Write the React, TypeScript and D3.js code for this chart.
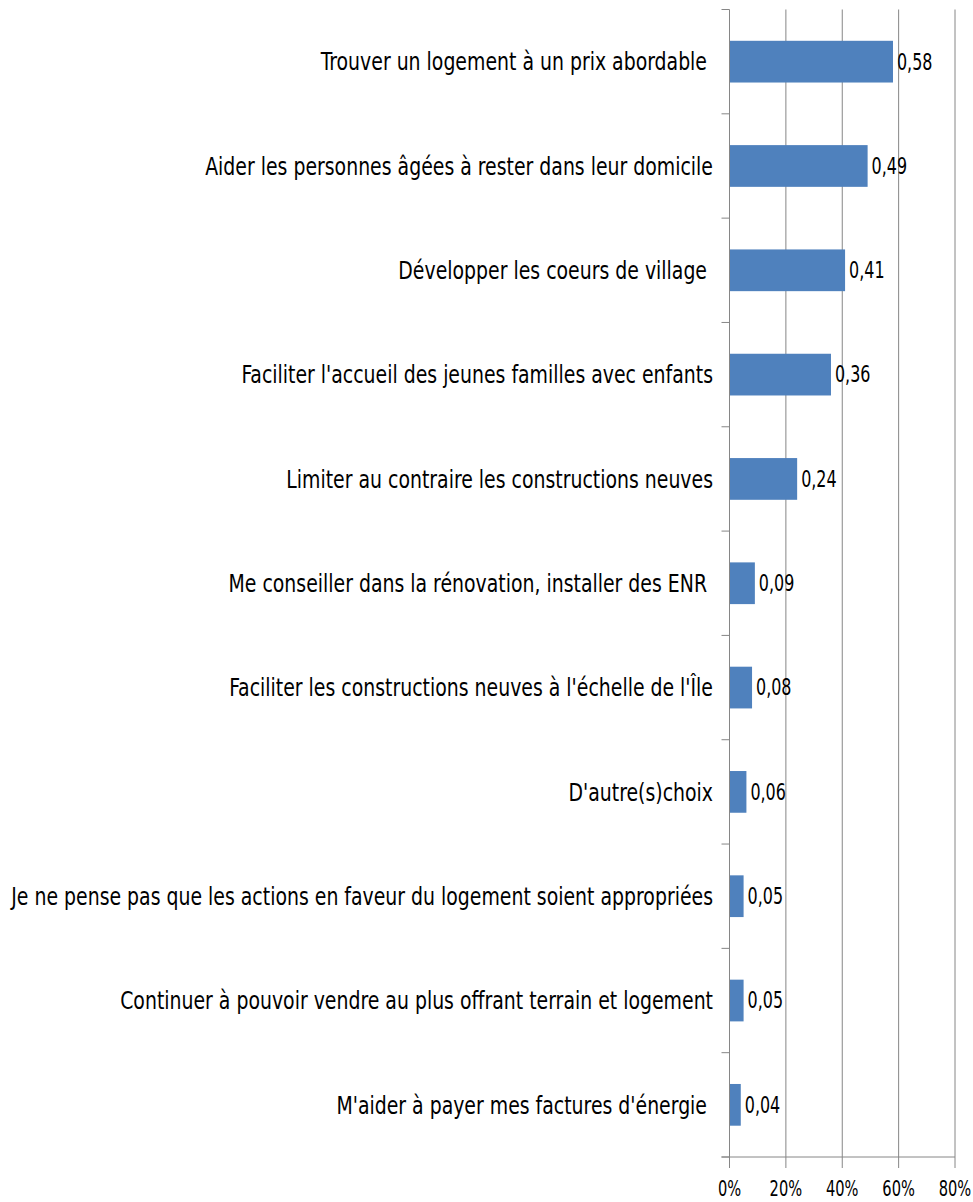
import React from "react";
import * as d3 from "d3";

const categories = [
  "Trouver un logement à un prix abordable ",
  "Aider les personnes âgées à rester dans leur domicile",
  "Développer les coeurs de village ",
  "Faciliter l'accueil des jeunes familles avec enfants",
  "Limiter au contraire les constructions neuves",
  "Me conseiller dans la rénovation, installer des ENR ",
  "Faciliter les constructions neuves à l'échelle de l'Île",
  "D'autre(s)choix",
  "Je ne pense pas que les actions en faveur du logement soient appropriées",
  "Continuer à pouvoir vendre au plus offrant terrain et logement",
  "M'aider à payer mes factures d'énergie ",
];
const values = [0.58, 0.49, 0.41, 0.36, 0.24, 0.09, 0.08, 0.06, 0.05, 0.05, 0.04];
const valueLabels = ["0,58", "0,49", "0,41", "0,36", "0,24", "0,09", "0,08", "0,06", "0,05", "0,05", "0,04"];
const xTicks = [0, 0.2, 0.4, 0.6, 0.8];
const xTickLabels = ["0%", "20%", "40%", "60%", "80%"];

const FONT = "'Liberation Sans Narrow', 'DejaVu Sans Condensed', 'Open Sans', sans-serif";

export default function App() {
  const W = 973, H = 1202;
  const x0 = 729.5, x1 = 955, yTop = 9.5, yBot = 1157;
  const x = d3.scaleLinear().domain([0, 0.8]).range([x0, x1]);
  const y = d3.scaleBand<string>().domain(categories).range([yTop, yBot]).paddingInner(0.6).paddingOuter(0.3);
  const bandStep = (yBot - yTop) / categories.length;
  const grid = "#868686";
  return (
    <svg width={W} height={H} style={{ position: "absolute", left: 0, top: 0, background: "#fff" }}>
      {xTicks.slice(1).map((t, i) => (
        <line key={"g" + i} x1={x(t)} x2={x(t)} y1={yTop} y2={yBot} stroke={grid} strokeWidth={1} />
      ))}
      {categories.map((c, i) => (
        <rect key={"b" + i} x={x(0)} y={y(c)!} width={x(values[i]) - x(0)} height={y.bandwidth()} fill="#4F81BD" />
      ))}
      <line x1={x0} x2={x0} y1={yTop} y2={yBot} stroke={grid} strokeWidth={1} />
      {d3.range(categories.length + 1).map((i) => (
        <line key={"t" + i} x1={x0 - 8} x2={x0} y1={yTop + i * bandStep} y2={yTop + i * bandStep} stroke={grid} strokeWidth={1} />
      ))}
      <line x1={x0 - 8} x2={x1} y1={yBot} y2={yBot} stroke={grid} strokeWidth={1} />
      {xTicks.map((t, i) => (
        <line key={"xt" + i} x1={x(t)} x2={x(t)} y1={yBot} y2={yBot + 11} stroke={grid} strokeWidth={1} />
      ))}
      {xTicks.map((t, i) => (
        <text key={"xl" + i} transform={`translate(${x(t)},${1189}) scale(0.74,1)`} textAnchor="middle" dominantBaseline="central"
          fontFamily={FONT} fontSize={22} fill="#000">
          {xTickLabels[i]}
        </text>
      ))}
      {categories.map((c, i) => (
        <text key={"c" + i} transform={`translate(713,${y(c)! + y.bandwidth() / 2}) scale(0.84,1)`} textAnchor="end" dominantBaseline="central"
          fontFamily={FONT} fontSize={25} fill="#000" style={{ whiteSpace: "pre" }}>
          {c}
        </text>
      ))}
      {categories.map((c, i) => (
        <text key={"v" + i} transform={`translate(${x(values[i]) + 4},${y(c)! + y.bandwidth() / 2}) scale(0.77,1)`} dominantBaseline="central"
          fontFamily={FONT} fontSize={23} fill="#000">
          {valueLabels[i]}
        </text>
      ))}
    </svg>
  );
}
